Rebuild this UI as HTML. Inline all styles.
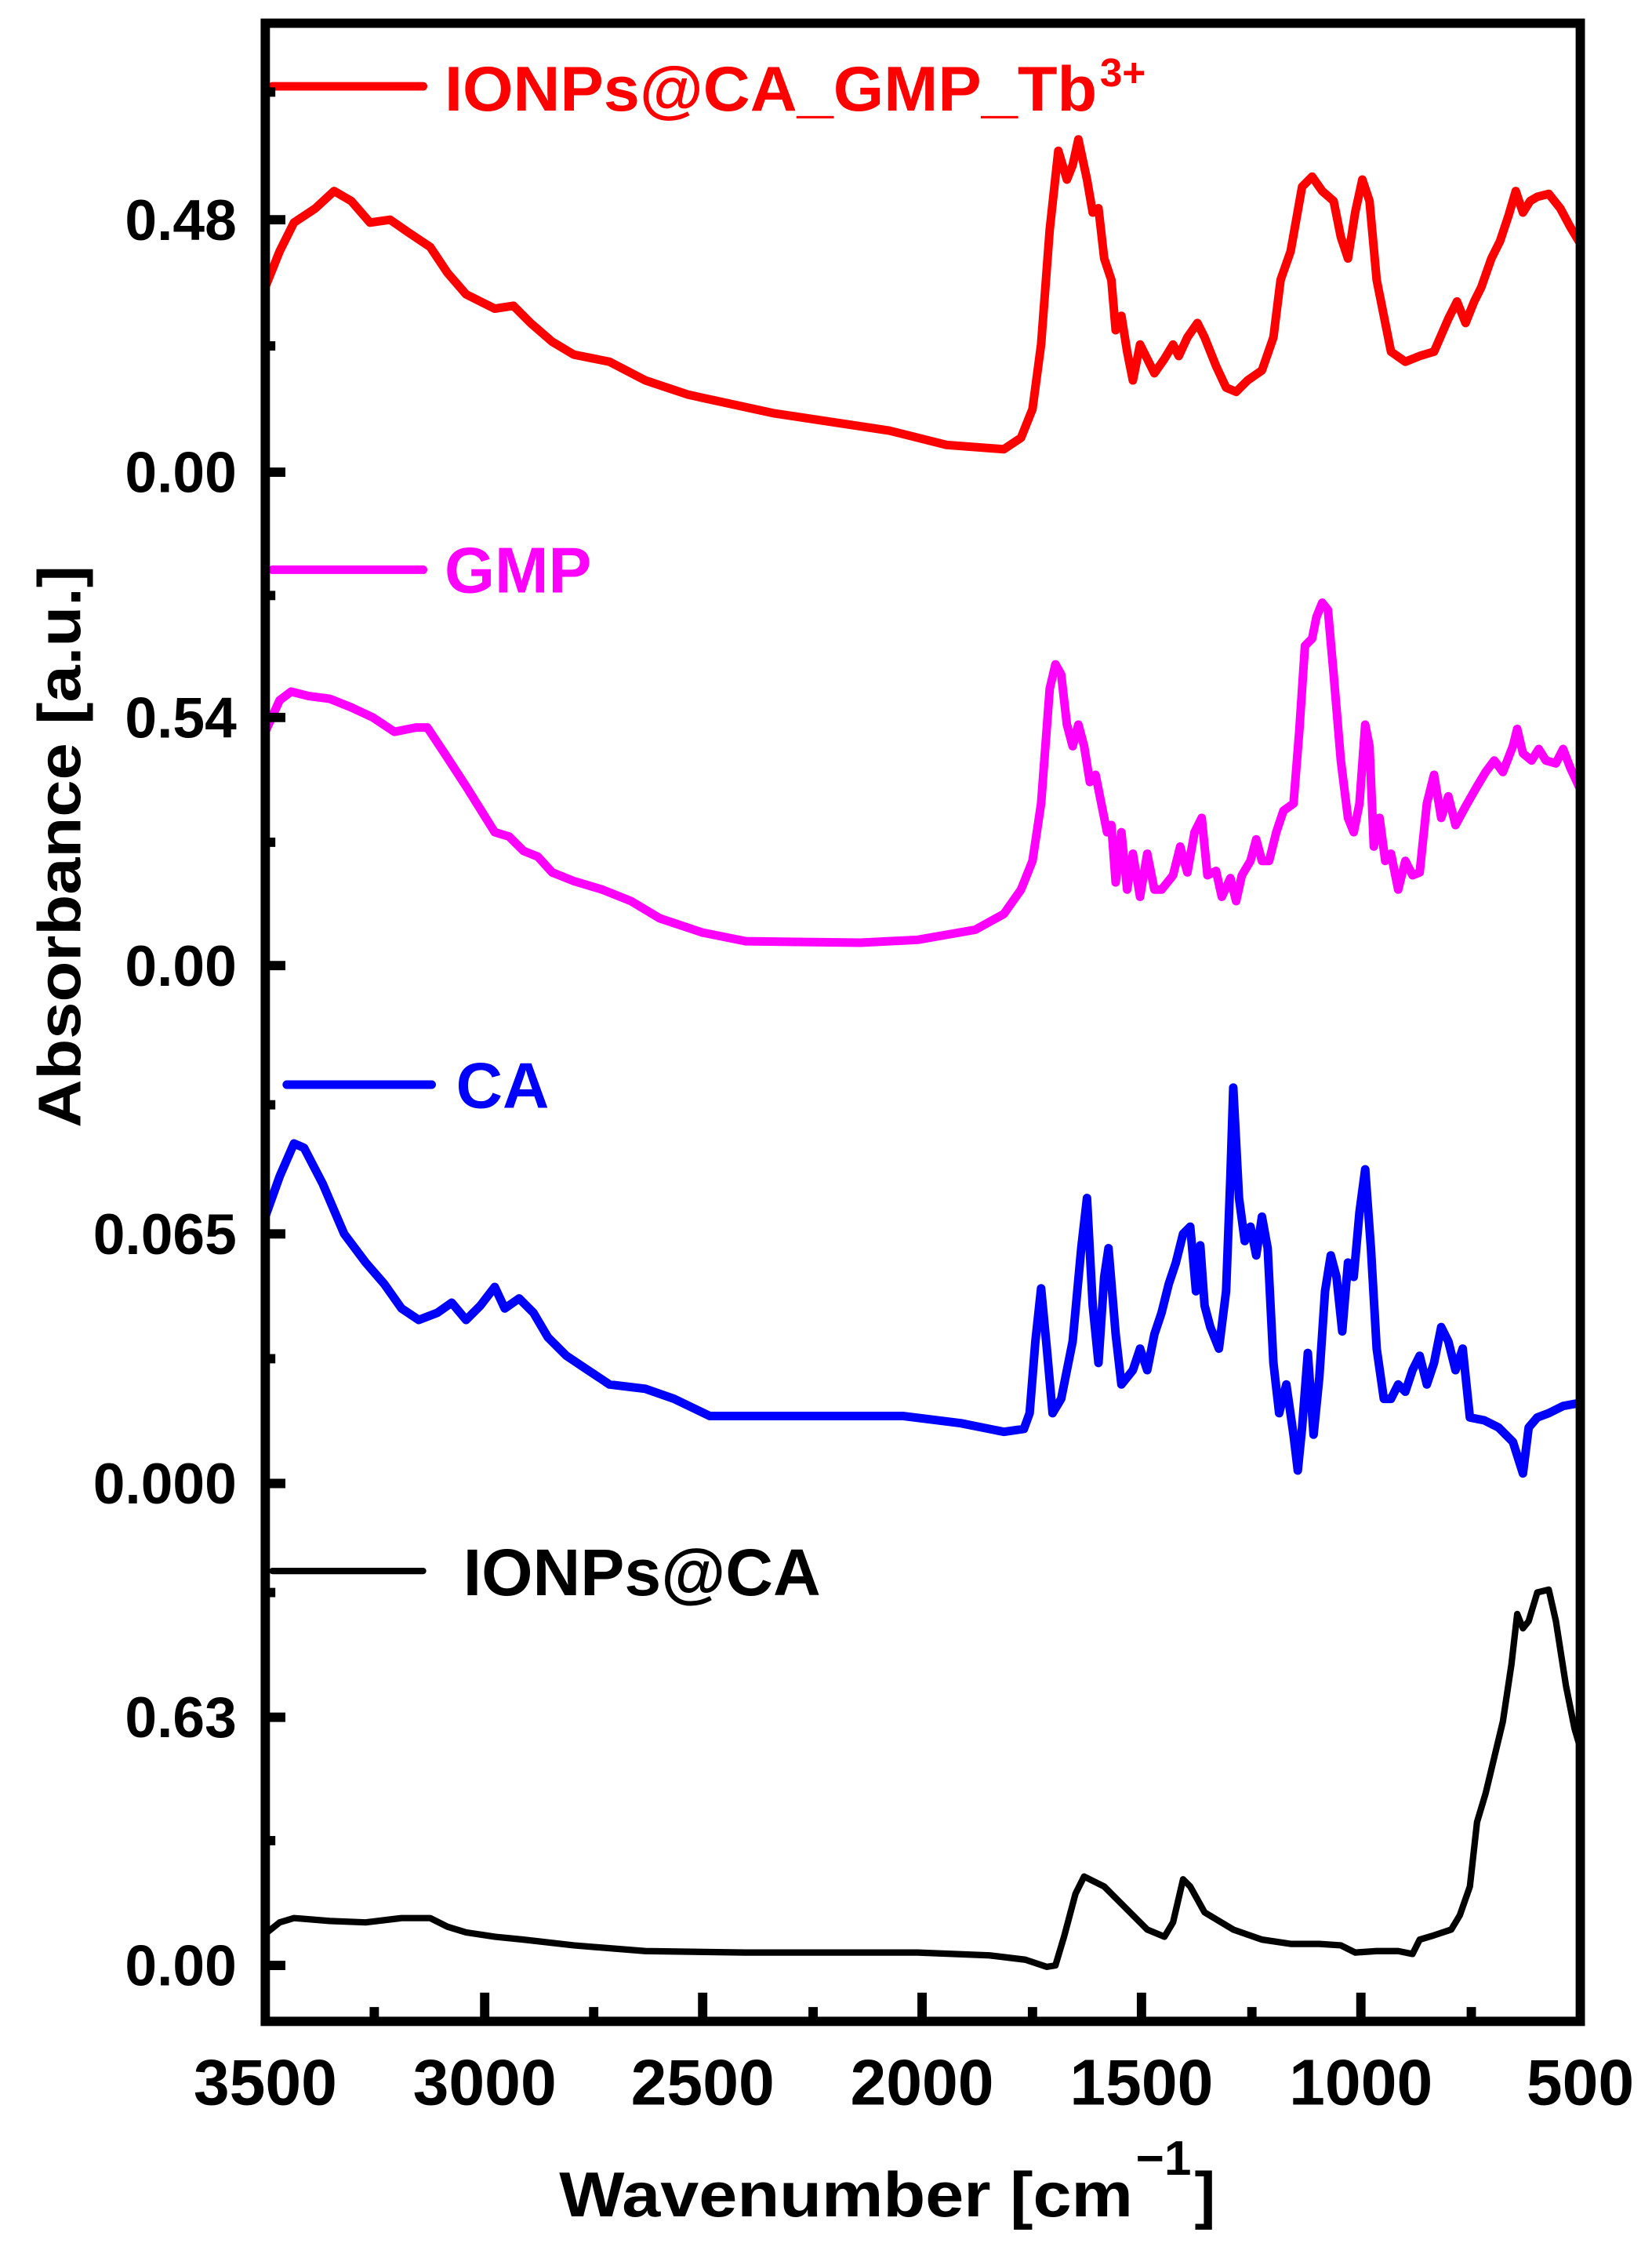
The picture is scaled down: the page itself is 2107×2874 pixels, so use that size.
<!DOCTYPE html>
<html><head><meta charset="utf-8"><style>html,body{margin:0;padding:0;background:#fff}svg{display:block}</style></head>
<body>
<svg width="2107" height="2874" viewBox="0 0 1152 1571" xmlns="http://www.w3.org/2000/svg" font-family="Liberation Sans, Arial, sans-serif" font-weight="bold">
<rect width="1152" height="1571" fill="#fff"/>
<g fill="none" stroke-linejoin="round" stroke-linecap="round">
<polyline stroke="#f00" stroke-width="6" points="185,200 195,175 205,155 220,145 233,133 245,140 258,155 272,153 285,162 300,172 312,190 325,205 345,215 358,213 370,225 385,238 400,247 425,252 450,265 480,275 540,288 620,300 660,310 700,313 712,305 720,285 726,240 732,160 738,105 744,125 748,115 752,97 758,125 762,148 766,145 770,180 775,195 778,230 782,220 786,245 790,265 795,240 800,250 805,260 812,250 818,240 822,248 828,235 835,225 840,235 848,255 855,270 862,273 870,265 880,258 888,235 893,195 900,175 908,130 915,123 922,133 930,140 935,165 940,180 945,148 950,125 955,140 960,195 970,245 980,252 990,248 1000,245 1010,222 1016,210 1022,225 1028,210 1033,200 1040,180 1046,168 1052,150 1057,133 1062,148 1067,140 1072,137 1080,135 1088,145 1095,158 1101,168"/>
<polyline stroke="#f0f" stroke-width="6" points="185,510 195,488 203,482 215,485 230,487 245,493 260,500 275,510 290,507 298,507 310,525 325,548 345,580 355,583 365,593 375,597 385,608 400,614 420,620 440,628 460,640 490,650 520,656 600,657 640,655 680,648 700,637 712,620 720,600 726,560 732,480 736,463 740,470 744,505 748,520 752,505 756,520 760,545 764,540 768,560 772,580 775,575 778,615 782,580 786,620 790,595 795,625 800,595 805,620 810,620 818,610 823,590 828,608 833,580 838,570 842,610 848,607 852,625 858,612 862,628 866,610 872,600 876,585 880,600 885,600 890,580 895,565 902,560 906,510 910,450 915,445 918,430 922,420 926,425 930,470 935,530 940,570 944,580 948,560 952,505 955,520 958,590 962,570 966,600 970,595 975,620 980,600 985,610 990,608 995,560 1000,540 1005,570 1010,555 1015,575 1022,562 1030,548 1036,538 1042,530 1048,538 1055,520 1058,508 1062,525 1068,530 1073,522 1078,530 1085,532 1090,522 1095,535 1101,548"/>
<polyline stroke="#00f" stroke-width="6" points="185,848 195,820 205,797 212,800 225,825 240,860 255,880 268,895 280,912 292,920 305,915 315,908 325,920 335,910 345,897 352,912 362,905 372,915 382,932 395,945 410,955 425,965 450,968 470,975 495,987 560,987 630,987 670,992 700,998 714,996 718,985 722,935 726,898 730,940 734,985 740,975 748,935 754,870 758,835 762,910 766,950 770,890 773,870 778,930 782,965 790,955 795,940 800,955 805,930 810,915 815,895 820,880 825,860 830,855 834,900 837,868 840,910 844,925 850,940 855,900 858,820 860,758 864,835 868,865 872,855 876,875 880,848 884,870 888,950 892,985 897,965 902,1000 905,1025 908,995 912,943 916,1000 920,960 924,900 928,875 932,890 936,928 940,880 944,890 948,845 952,815 956,870 960,940 965,975 970,975 975,965 980,970 985,955 990,945 995,965 1000,950 1005,925 1010,935 1015,955 1020,940 1025,988 1035,990 1045,995 1055,1005 1062,1027 1066,995 1072,988 1080,985 1090,980 1101,978"/>
<polyline stroke="#000" stroke-width="4.5" points="185,1348 195,1340 205,1337 230,1339 255,1340 280,1337 300,1337 312,1343 325,1347 345,1350 365,1352 400,1356 450,1360 520,1361 640,1361 690,1363 715,1366 730,1371 736,1370 742,1350 750,1320 756,1308 770,1315 785,1330 800,1345 812,1350 818,1340 825,1310 830,1315 840,1333 860,1345 880,1352 900,1355 920,1355 935,1356 945,1361 960,1360 975,1360 985,1362 990,1352 1000,1349 1012,1345 1018,1335 1025,1315 1030,1270 1036,1250 1042,1225 1048,1200 1054,1160 1058,1125 1062,1135 1066,1130 1072,1110 1080,1108 1085,1130 1092,1175 1098,1205 1101,1215"/>
<line x1="190" y1="60" x2="295" y2="60" stroke="#f00" stroke-width="6"/>
<line x1="190" y1="397" x2="295" y2="397" stroke="#f0f" stroke-width="6"/>
<line x1="200" y1="756" x2="301" y2="756" stroke="#00f" stroke-width="6"/>
<line x1="190" y1="1095" x2="295" y2="1095" stroke="#000" stroke-width="4.5"/>
</g>
<g stroke="#000" stroke-width="6.5" fill="none">
<rect x="185" y="16" width="917" height="1393"/>
<path d="M185,153h14M185,329h14M185,500h14M185,673h14M185,860h14M185,1034h14M185,1197h14M185,1370h14"/>
<path d="M185,64h7M185,241h7M185,415h7M185,587h7M185,770h7M185,947h7M185,1110h7M185,1283h7"/>
<path d="M338,1409v-20M490,1409v-20M643,1409v-20M796,1409v-20M949,1409v-20"/>
<path d="M261,1409v-10M414,1409v-10M567,1409v-10M720,1409v-10M873,1409v-10M1026,1409v-10"/>
</g>
<g font-size="40" text-anchor="end" fill="#000">
<text x="165" y="167">0.48</text>
<text x="165" y="343">0.00</text>
<text x="165" y="514">0.54</text>
<text x="165" y="687">0.00</text>
<text x="165" y="874">0.065</text>
<text x="165" y="1048">0.000</text>
<text x="165" y="1211">0.63</text>
<text x="165" y="1384">0.00</text>
</g>
<g font-size="45" text-anchor="middle" fill="#000">
<text x="185" y="1467">3500</text>
<text x="338" y="1467">3000</text>
<text x="490" y="1467">2500</text>
<text x="643" y="1467">2000</text>
<text x="796" y="1467">1500</text>
<text x="949" y="1467">1000</text>
<text x="1102" y="1467">500</text>
</g>
<text x="390" y="1545" font-size="44" textLength="400" lengthAdjust="spacingAndGlyphs">Wavenumber [cm</text>
<text x="792" y="1516" font-size="34">−1</text>
<text x="833" y="1545" font-size="44">]</text>
<text transform="translate(56,590) rotate(-90)" text-anchor="middle" font-size="42" textLength="392" lengthAdjust="spacingAndGlyphs">Absorbance [a.u.]</text>
<text x="310" y="77" font-size="44" fill="#f00" textLength="455" lengthAdjust="spacingAndGlyphs">IONPs@CA_GMP_Tb</text>
<text x="767" y="60" font-size="28" fill="#f00">3+</text>
<text x="310" y="413" font-size="45" fill="#f0f">GMP</text>
<text x="318" y="772" font-size="45" fill="#00f">CA</text>
<text x="323" y="1112" font-size="46" fill="#000">IONPs@CA</text>
</svg>
</body></html>
